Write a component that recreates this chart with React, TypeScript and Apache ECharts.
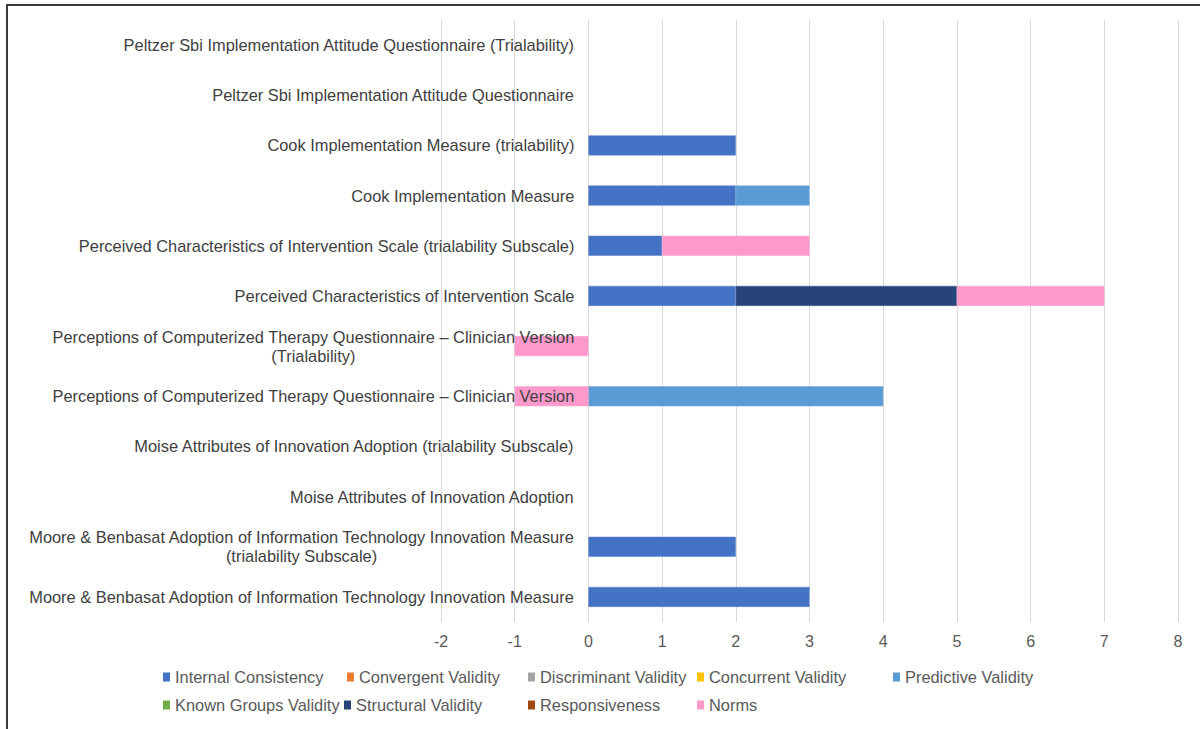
import React, { useEffect, useRef } from "react";
import * as echarts from "echarts";

// Instruments, listed top to bottom
const categories: string[] = [
  "Peltzer Sbi Implementation Attitude Questionnaire (Trialability)",
  "Peltzer Sbi Implementation Attitude Questionnaire",
  "Cook Implementation Measure (trialability)",
  "Cook Implementation Measure",
  "Perceived Characteristics of Intervention Scale (trialability Subscale)",
  "Perceived Characteristics of Intervention Scale",
  "Perceptions of Computerized Therapy Questionnaire – Clinician Version\n(Trialability)",
  "Perceptions of Computerized Therapy Questionnaire – Clinician Version",
  "Moise Attributes of Innovation Adoption (trialability Subscale)",
  "Moise Attributes of Innovation Adoption",
  "Moore & Benbasat Adoption of Information Technology Innovation Measure\n(trialability Subscale)",
  "Moore & Benbasat Adoption of Information Technology Innovation Measure",
];

const N = null;
// Scores per psychometric property, one value per instrument
const internalConsistency = [N, N, 2, 2, 1, 2, N, N, N, N, 2, 3];
const convergentValidity = [N, N, N, N, N, N, N, N, N, N, N, N];
const discriminantValidity = [N, N, N, N, N, N, N, N, N, N, N, N];
const concurrentValidity = [N, N, N, N, N, N, N, N, N, N, N, N];
const predictiveValidity = [N, N, N, 1, N, N, N, 4, N, N, N, N];
const knownGroupsValidity = [N, N, N, N, N, N, N, N, N, N, N, N];
const structuralValidity = [N, N, N, N, N, 3, N, N, N, N, N, N];
const responsiveness = [N, N, N, N, N, N, N, N, N, N, N, N];
const norms = [N, N, N, N, 2, 2, -1, -1, N, N, N, N];

const seriesNames = [
  "Internal Consistency",
  "Convergent Validity",
  "Discriminant Validity",
  "Concurrent Validity",
  "Predictive Validity",
  "Known Groups Validity",
  "Structural Validity",
  "Responsiveness",
  "Norms",
];
const seriesData = [
  internalConsistency,
  convergentValidity,
  discriminantValidity,
  concurrentValidity,
  predictiveValidity,
  knownGroupsValidity,
  structuralValidity,
  responsiveness,
  norms,
];
const seriesColors = [
  "#4472C4",
  "#ED7D31",
  "#A5A5A5",
  "#FFC000",
  "#5B9BD5",
  "#70AD47",
  "#264478",
  "#9E480E",
  "#FF99CC",
];

// Axis range and step
const xMin = -2;
const xMax = 8;
const xStep = 1;

// Plot box
const gridLeft = 441;
const gridRight = 22;
const chartWidth = 1200;

// Legend slots: [left, top] for each entry
const legendSlots: [number, number][] = [
  [163, 669],
  [347, 669],
  [528, 669],
  [697, 669],
  [893, 669],
  [163, 697],
  [344, 697],
  [528, 697],
  [697, 697],
];

const FONT = "'Liberation Sans', Arial, sans-serif";

export default function App() {
  const ref = useRef<HTMLDivElement>(null);

  useEffect(() => {
    if (!ref.current) return;
    const chart = echarts.init(ref.current, undefined, { renderer: "svg" });

    // the category labels hang off the vertical line at x = 0
    const plotWidth = chartWidth - gridLeft - gridRight;
    const zeroOffset = ((0 - xMin) / (xMax - xMin)) * plotWidth;

    const option: any = {
      animation: false,
      backgroundColor: "#ffffff",
      grid: {
        left: gridLeft,
        right: gridRight,
        top: 20,
        bottom: 107,
        containLabel: false,
        outerBoundsMode: "none",
      },
      xAxis: {
        type: "value",
        min: xMin,
        max: xMax,
        interval: xStep,
        axisLine: { show: false },
        axisTick: { show: false },
        splitLine: { show: true, lineStyle: { color: "#d9d9d9", width: 1 } },
        axisLabel: {
          margin: 11,
          fontSize: 16,
          fontFamily: FONT,
          color: "#595959",
        },
      },
      yAxis: {
        type: "category",
        inverse: true,
        data: categories,
        z: 5,
        offset: -zeroOffset,
        axisLine: { show: false, onZero: false },
        axisTick: { show: false },
        splitLine: { show: false },
        axisLabel: {
          margin: 14,
          interval: 0,
          formatter: (v: string) =>
            v
              .split("\n")
              .map((line) => `{c|${line}}`)
              .join("\n"),
          rich: {
            c: {
              align: "center",
              fontSize: 16.4,
              fontFamily: FONT,
              color: "#404040",
              lineHeight: 19,
            },
          },
        },
      },
      legend: seriesNames.map((name, i) => ({
        data: [name],
        left: legendSlots[i][0],
        top: legendSlots[i][1],
        padding: 0,
        itemWidth: 7,
        itemHeight: 9,
        icon: "rect",
        selectedMode: false,
        itemStyle: { borderWidth: 0 },
        textStyle: { fontSize: 16.4, fontFamily: FONT, color: "#595959" },
      })),
      graphic: [
        {
          type: "rect",
          silent: true,
          shape: { x: 7, y: 5, width: 1400, height: 900 },
          style: { fill: "none", stroke: "#3a3a3a", lineWidth: 2 },
        },
      ],
      series: seriesNames.map((name, i) => ({
        name,
        type: "bar",
        stack: "total",
        barWidth: 20,
        data: seriesData[i],
        itemStyle: {
          color: seriesColors[i],
          borderColor: echarts.color.lift(seriesColors[i], 0.12) as string,
          borderWidth: 0.5,
        },
        emphasis: { disabled: true },
      })),
    };

    chart.setOption(option);
    return () => chart.dispose();
  }, []);

  return (
    <div
      ref={ref}
      style={{
        position: "fixed",
        left: 0,
        top: 0,
        width: chartWidth,
        height: 729,
        background: "#fff",
      }}
    />
  );
}
